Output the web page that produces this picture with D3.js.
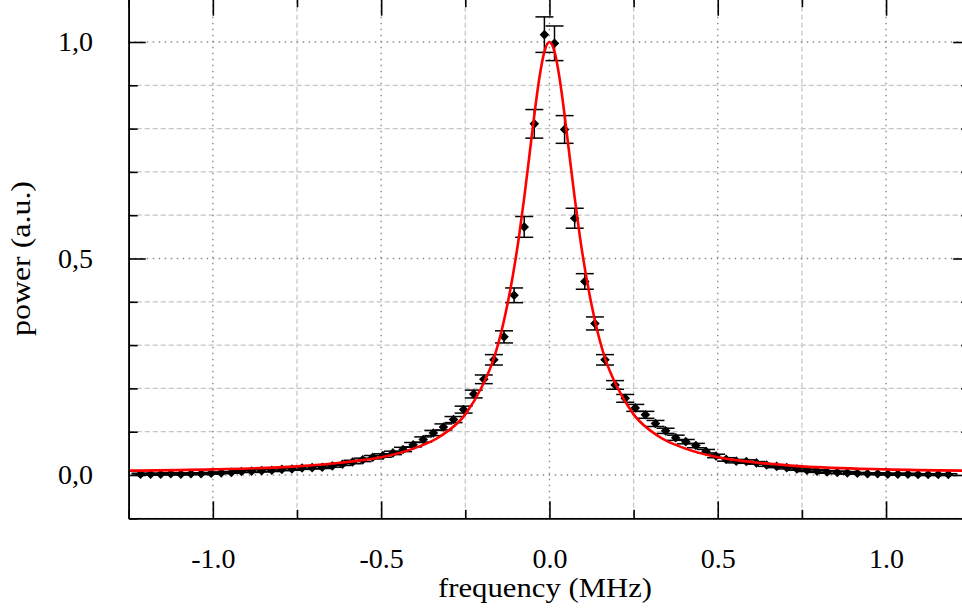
<!DOCTYPE html>
<html>
<head>
<meta charset="utf-8">
<script src="https://cdn.jsdelivr.net/npm/d3@7.9.0/dist/d3.min.js"></script>
<style>
  body { margin: 0; background: #fff; }
  svg text { font-family: "Liberation Serif", "Times New Roman", serif; fill: #000; }
</style>
</head>
<body>
<div id="chart"></div>
<script>
// measured points (MHz, a.u.)
const freq = [-1.215, -1.185, -1.155, -1.125, -1.095, -1.065, -1.035, -1.005, -0.975, -0.945,
  -0.915, -0.885, -0.855, -0.825, -0.795, -0.765, -0.735, -0.705, -0.675, -0.645,
  -0.615, -0.585, -0.555, -0.525, -0.495, -0.465, -0.435, -0.405, -0.375, -0.345,
  -0.315, -0.285, -0.255, -0.225, -0.195, -0.165, -0.135, -0.105, -0.075, -0.045,
  -0.015, 0.015, 0.045, 0.075, 0.105, 0.135, 0.165, 0.195, 0.225, 0.255,
  0.285, 0.315, 0.345, 0.375, 0.405, 0.435, 0.465, 0.495, 0.525, 0.555,
  0.585, 0.615, 0.645, 0.675, 0.705, 0.735, 0.765, 0.795, 0.825, 0.855,
  0.885, 0.915, 0.945, 0.975, 1.005, 1.035, 1.065, 1.095, 1.125, 1.155, 1.185];
const power = [0.002, 0.002, 0.002, 0.003, 0.002, 0.003, 0.003, 0.004, 0.005, 0.006,
  0.008, 0.009, 0.010, 0.011, 0.013, 0.014, 0.016, 0.017, 0.018, 0.021,
  0.025, 0.030, 0.035, 0.041, 0.045, 0.051, 0.059, 0.070, 0.082, 0.097,
  0.111, 0.128, 0.151, 0.187, 0.221, 0.266, 0.319, 0.415, 0.573, 0.811,
  1.017, 0.997, 0.798, 0.593, 0.447, 0.350, 0.266, 0.208, 0.177, 0.155,
  0.139, 0.119, 0.102, 0.086, 0.077, 0.068, 0.055, 0.044, 0.036, 0.032,
  0.031, 0.028, 0.023, 0.020, 0.017, 0.014, 0.011, 0.009, 0.007, 0.006,
  0.005, 0.004, 0.003, 0.003, 0.002, 0.002, 0.002, 0.001, 0.001, 0.001, 0.001];
const powerErr = [0.002, 0.002, 0.002, 0.002, 0.002, 0.002, 0.002, 0.002, 0.002, 0.002,
  0.002, 0.003, 0.003, 0.003, 0.003, 0.003, 0.003, 0.003, 0.003, 0.003,
  0.003, 0.004, 0.004, 0.004, 0.004, 0.004, 0.005, 0.005, 0.006, 0.006,
  0.007, 0.007, 0.008, 0.009, 0.010, 0.012, 0.014, 0.017, 0.024, 0.033,
  0.041, 0.040, 0.032, 0.023, 0.018, 0.015, 0.012, 0.010, 0.009, 0.008,
  0.008, 0.007, 0.006, 0.006, 0.005, 0.005, 0.004, 0.004, 0.004, 0.004,
  0.004, 0.003, 0.003, 0.003, 0.003, 0.003, 0.003, 0.003, 0.003, 0.003,
  0.003, 0.002, 0.002, 0.002, 0.002, 0.002, 0.002, 0.002, 0.002, 0.002, 0.002];

// fitted curve
const fitFreq = [-1.25, -1.0, -0.75, -0.6, -0.5, -0.4, -0.325, -0.25, -0.2, -0.165, -0.135, -0.11, -0.09,
  -0.075, -0.06, -0.045, -0.03, -0.015, 0, 0.015, 0.03, 0.045, 0.06, 0.075, 0.09, 0.11, 0.135,
  0.165, 0.2, 0.25, 0.325, 0.4, 0.5, 0.6, 0.75, 1.0, 1.25];
const fitPower = [0.010, 0.013, 0.020, 0.030, 0.041, 0.062, 0.089, 0.140, 0.205, 0.270, 0.357, 0.455, 0.553,
  0.640, 0.735, 0.831, 0.917, 0.978, 1.0, 0.978, 0.917, 0.831, 0.735, 0.640, 0.553, 0.455, 0.357,
  0.270, 0.205, 0.140, 0.089, 0.062, 0.041, 0.030, 0.020, 0.013, 0.010];

const xMajor = [-1.0, -0.5, 0.0, 0.5, 1.0];
const xMinor = [-1.25, -0.75, -0.25, 0.25, 0.75, 1.25];
const yMajor = [0.0, 0.5, 1.0];
const yMinor = [-0.1, 0.1, 0.2, 0.3, 0.4, 0.6, 0.7, 0.8, 0.9, 1.1];

const width = 962, height = 613;
const plotL = 128.7, plotR = 970.2, plotT = -1.3, plotB = 518.3;

const svg = d3.select("#chart").append("svg")
    .attr("width", width)
    .attr("height", height);

const x = d3.scaleLinear().domain([-1.25, 1.25]).range([plotL, plotR]);
const y = d3.scaleLinear().domain([-0.1, 1.1]).range([plotB, plotT]);

// grid
const grid = svg.append("g");
grid.selectAll(".gyminor").data(yMinor).enter().append("line")
    .attr("x1", plotL).attr("x2", plotR)
    .attr("y1", d => y(d)).attr("y2", d => y(d))
    .attr("stroke", "#c4c4c4").attr("stroke-width", 1.2)
    .attr("stroke-dasharray", "5,3");
grid.selectAll(".gxminor").data(xMinor).enter().append("line")
    .attr("x1", d => x(d)).attr("x2", d => x(d))
    .attr("y1", plotT).attr("y2", plotB)
    .attr("stroke", "#c4c4c4").attr("stroke-width", 1.2)
    .attr("stroke-dasharray", "5,3");
grid.selectAll(".gymajor").data(yMajor).enter().append("line")
    .attr("x1", plotL).attr("x2", plotR)
    .attr("y1", d => y(d)).attr("y2", d => y(d))
    .attr("stroke", "#8c8c8c").attr("stroke-width", 1.4)
    .attr("stroke-dasharray", "1.5,4.5");
grid.selectAll(".gxmajor").data(xMajor).enter().append("line")
    .attr("x1", d => x(d)).attr("x2", d => x(d))
    .attr("y1", plotT).attr("y2", plotB)
    .attr("stroke", "#8c8c8c").attr("stroke-width", 1.4)
    .attr("stroke-dasharray", "1.5,4.5");

// error bars
const pts = freq.map((f, i) => ({f: f, p: power[i], e: powerErr[i]}));
const eb = svg.append("g").attr("stroke", "#000").attr("stroke-width", 1.5);
eb.selectAll(".v").data(pts).enter().append("line")
    .attr("x1", d => x(d.f)).attr("x2", d => x(d.f))
    .attr("y1", d => y(d.p - d.e)).attr("y2", d => y(d.p + d.e));
eb.selectAll(".t").data(pts).enter().append("line")
    .attr("x1", d => x(d.f) - 9).attr("x2", d => x(d.f) + 9)
    .attr("y1", d => y(d.p + d.e)).attr("y2", d => y(d.p + d.e));
eb.selectAll(".b").data(pts).enter().append("line")
    .attr("x1", d => x(d.f) - 9).attr("x2", d => x(d.f) + 9)
    .attr("y1", d => y(d.p - d.e)).attr("y2", d => y(d.p - d.e));

// diamonds
const diamond = d3.symbol().type(d3.symbolSquare).size(46);
svg.append("g").selectAll("path").data(pts).enter().append("path")
    .attr("d", diamond)
    .attr("transform", d => `translate(${x(d.f)},${y(d.p)}) rotate(45)`)
    .attr("fill", "#000");

// fit
const line = d3.line()
    .x((d, i) => x(fitFreq[i]))
    .y(d => y(d))
    .curve(d3.curveMonotoneX);
svg.append("path")
    .datum(fitPower)
    .attr("d", line)
    .attr("fill", "none")
    .attr("stroke", "#ff0000")
    .attr("stroke-width", 2.6);

// axes
function styleAxis(g) {
  g.selectAll("path.domain").attr("stroke", "#000").attr("stroke-width", 1.6);
  g.selectAll(".tick line").attr("stroke", "#000").attr("stroke-width", 1.6);
  g.selectAll(".tick text").attr("font-size", 28).attr("font-family", "Liberation Serif, serif");
}

svg.append("g")
    .attr("transform", `translate(0,${plotB})`)
    .call(d3.axisBottom(x).tickValues(xMajor).tickSize(-17).tickSizeOuter(0).tickPadding(30)
      .tickFormat(d => d.toFixed(1)))
    .call(styleAxis);
svg.append("g")
    .attr("transform", `translate(0,${plotB})`)
    .call(d3.axisBottom(x).tickValues(xMinor).tickSize(-8.5).tickSizeOuter(0).tickFormat(""))
    .call(styleAxis);
svg.append("g")
    .attr("transform", `translate(0,${plotT})`)
    .call(d3.axisTop(x).tickValues(xMajor).tickSize(-17).tickSizeOuter(0).tickFormat(""))
    .call(styleAxis);
svg.append("g")
    .attr("transform", `translate(0,${plotT})`)
    .call(d3.axisTop(x).tickValues(xMinor).tickSize(-8.5).tickSizeOuter(0).tickFormat(""))
    .call(styleAxis);

svg.append("g")
    .attr("transform", `translate(${plotL},0)`)
    .call(d3.axisLeft(y).tickValues(yMajor).tickSize(-17).tickSizeOuter(0).tickPadding(35.7)
      .tickFormat(d => d.toFixed(1).replace(".", ",")))
    .call(styleAxis);
svg.append("g")
    .attr("transform", `translate(${plotL},0)`)
    .call(d3.axisLeft(y).tickValues(yMinor).tickSize(-9).tickSizeOuter(0).tickFormat(""))
    .call(styleAxis);
svg.append("g")
    .attr("transform", `translate(${plotR},0)`)
    .call(d3.axisRight(y).tickValues(yMajor).tickSize(-17).tickSizeOuter(0).tickFormat(""))
    .call(styleAxis);
svg.append("g")
    .attr("transform", `translate(${plotR},0)`)
    .call(d3.axisRight(y).tickValues(yMinor).tickSize(-9).tickSizeOuter(0).tickFormat(""))
    .call(styleAxis);

// titles
svg.append("text")
    .attr("x", 545).attr("y", 597)
    .attr("text-anchor", "middle")
    .attr("font-size", 28)
    .attr("textLength", 214).attr("lengthAdjust", "spacingAndGlyphs")
    .text("frequency (MHz)");
svg.append("text")
    .attr("transform", `translate(30,${y(0.5)}) rotate(-90)`)
    .attr("text-anchor", "middle")
    .attr("font-size", 28)
    .attr("textLength", 155).attr("lengthAdjust", "spacingAndGlyphs")
    .text("power (a.u.)");
</script>
</body>
</html>
